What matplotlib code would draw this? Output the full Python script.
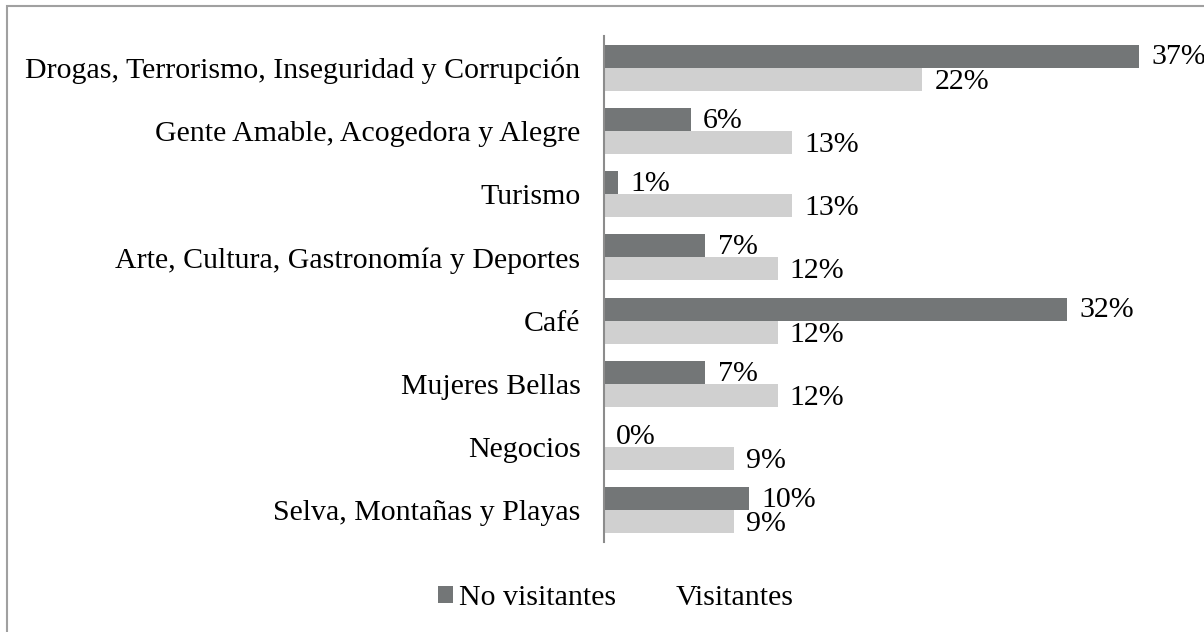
import matplotlib
matplotlib.use("Agg")
import matplotlib.pyplot as plt
import numpy as np
from matplotlib.patches import Patch, Rectangle

categories = [
    "Drogas, Terrorismo, Inseguridad y Corrupción",
    "Gente Amable, Acogedora y Alegre",
    "Turismo",
    "Arte, Cultura, Gastronomía y Deportes",
    "Café",
    "Mujeres Bellas",
    "Negocios",
    "Selva, Montañas y Playas",
]
no_visitantes = [37, 6, 1, 7, 32, 7, 0, 10]
visitantes = [22, 13, 13, 12, 12, 12, 9, 9]

DARK = "#737677"
LIGHT = "#d0d0d0"

plt.rcParams["font.family"] = ["Liberation Serif", "DejaVu Serif"]

fig = plt.figure(figsize=(12.04, 6.32), dpi=100)
ax = fig.add_axes([604 / 1204, 1 - 542 / 632, (1190 - 604) / 1204, 506 / 632])

y = np.arange(len(categories))
h = 0.364
ax.barh(y - h / 2, no_visitantes, height=h, color=DARK, label="No visitantes")
ax.barh(y + h / 2, visitantes, height=h, color=LIGHT, label="Visitantes")

fs = 21.5
for yi, v in zip(y, no_visitantes):
    ax.text(v + 0.85, yi - h / 2 + 0.02, f"{v}%", va="center", ha="left",
            fontsize=fs, clip_on=False)
for yi, v in zip(y, visitantes):
    ax.text(v + 0.85, yi + h / 2 + 0.04, f"{v}%", va="center", ha="left",
            fontsize=fs, clip_on=False)

ax.set_xlim(0, (1190 - 604) / 14.46)
ax.set_ylim(len(categories) - 0.5, -0.5)
ax.set_yticks(y)
ax.set_yticklabels(categories, fontsize=fs)
ax.tick_params(axis="y", length=0, pad=17)
ax.set_xticks([])
for s in ["top", "right", "bottom"]:
    ax.spines[s].set_visible(False)
ax.spines["left"].set_color("#8c8c8c")
ax.spines["left"].set_linewidth(1.5)

handles = [Patch(facecolor=DARK, edgecolor="none", label="No visitantes"),
           Patch(facecolor="white", edgecolor="none", label="Visitantes")]
fig.legend(handles=handles, loc="center", bbox_to_anchor=(616 / 1204, 1 - 598 / 632),
           ncol=2, frameon=False, fontsize=fs, handlelength=0.5, handleheight=0.5,
           handletextpad=0.2, columnspacing=1.3)

# outer frame
fig.patches.append(Rectangle((6.5 / 1204, -0.1), 1.2, 1 - 6 / 632 + 0.1,
                             transform=fig.transFigure, fill=False,
                             edgecolor="#a0a0a0", linewidth=1.5))

fig.savefig("out.png", dpi=100, facecolor="white")
